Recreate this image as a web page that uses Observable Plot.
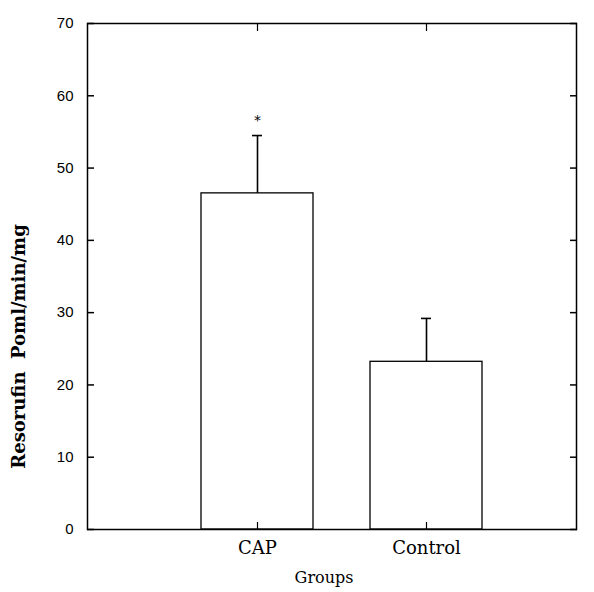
<!DOCTYPE html>
<html><head><meta charset="utf-8">
<script src="https://cdn.jsdelivr.net/npm/d3@7"></script>
<script src="https://cdn.jsdelivr.net/npm/@observablehq/plot@0.6"></script>
<style>body{margin:0;background:#fff}</style></head>
<body><div id="chart"></div>
<script>
const groups = ["CAP", "Control"];
const means = [46.5, 23.2];
const upper = [54.5, 29.2]; // mean + error bar
const signif = ["*", ""];
const yTicks = [0, 10, 20, 30, 40, 50, 60, 70];
const yLabel = "Resorufin  Poml/min/mg";
const xLabel = "Groups";

const data = groups.map((g, i) => ({group: g, mean: means[i], upper: upper[i], mark: signif[i]}));

const chart = Plot.plot({
  width: 594, height: 592,
  marginLeft: 87, marginRight: 18, marginTop: 23, marginBottom: 63,
  style: {background: "#fff", color: "#000"},
  x: {domain: groups, paddingInner: 0.339, paddingOuter: 0.612, align: 0.549, label: null},
  y: {domain: [0, 70], ticks: yTicks, label: null},
  marks: [
    Plot.barY(data, {x: "group", y: "mean", fill: "white", stroke: "black", strokeWidth: 1.3}),
    Plot.ruleX(data, {x: "group", y1: "mean", y2: "upper", stroke: "black", strokeWidth: 1.6}),
    Plot.tickY(data, {x: "group", y: "upper", inset: 51, stroke: "black", strokeWidth: 1.6}),
    Plot.text(data, {x: "group", y: "upper", text: "mark", dy: -15, fontSize: 14, fontFamily: "DejaVu Sans"}),
    Plot.frame({stroke: "black", strokeWidth: 1.5}),
    Plot.axisY(yTicks, {anchor: "left", tickSize: -7, tickPadding: 21, fontSize: 15, fontFamily: "Liberation Sans", label: null, strokeWidth: 1.5}),
    Plot.axisY(yTicks, {anchor: "right", tickSize: -7, tickFormat: () => "", label: null, strokeWidth: 1.5}),
    Plot.axisX(groups, {anchor: "bottom", tickSize: -7, tickPadding: 19, fontSize: 18, fontFamily: "DejaVu Serif", label: null, strokeWidth: 1.2}),
    Plot.axisX(groups, {anchor: "top", tickSize: -7, tickFormat: () => "", label: null, strokeWidth: 1.2}),
    Plot.text([yLabel], {frameAnchor: "left", textAnchor: "middle", rotate: -90, dx: -68, dy: 70, fontSize: 18, fontWeight: "bold", fontFamily: "DejaVu Serif"}),
    Plot.text([xLabel], {frameAnchor: "bottom", dx: -8, dy: 53, fontSize: 16, fontFamily: "DejaVu Serif"})
  ]
});
document.getElementById("chart").append(chart);
</script>
</body></html>
